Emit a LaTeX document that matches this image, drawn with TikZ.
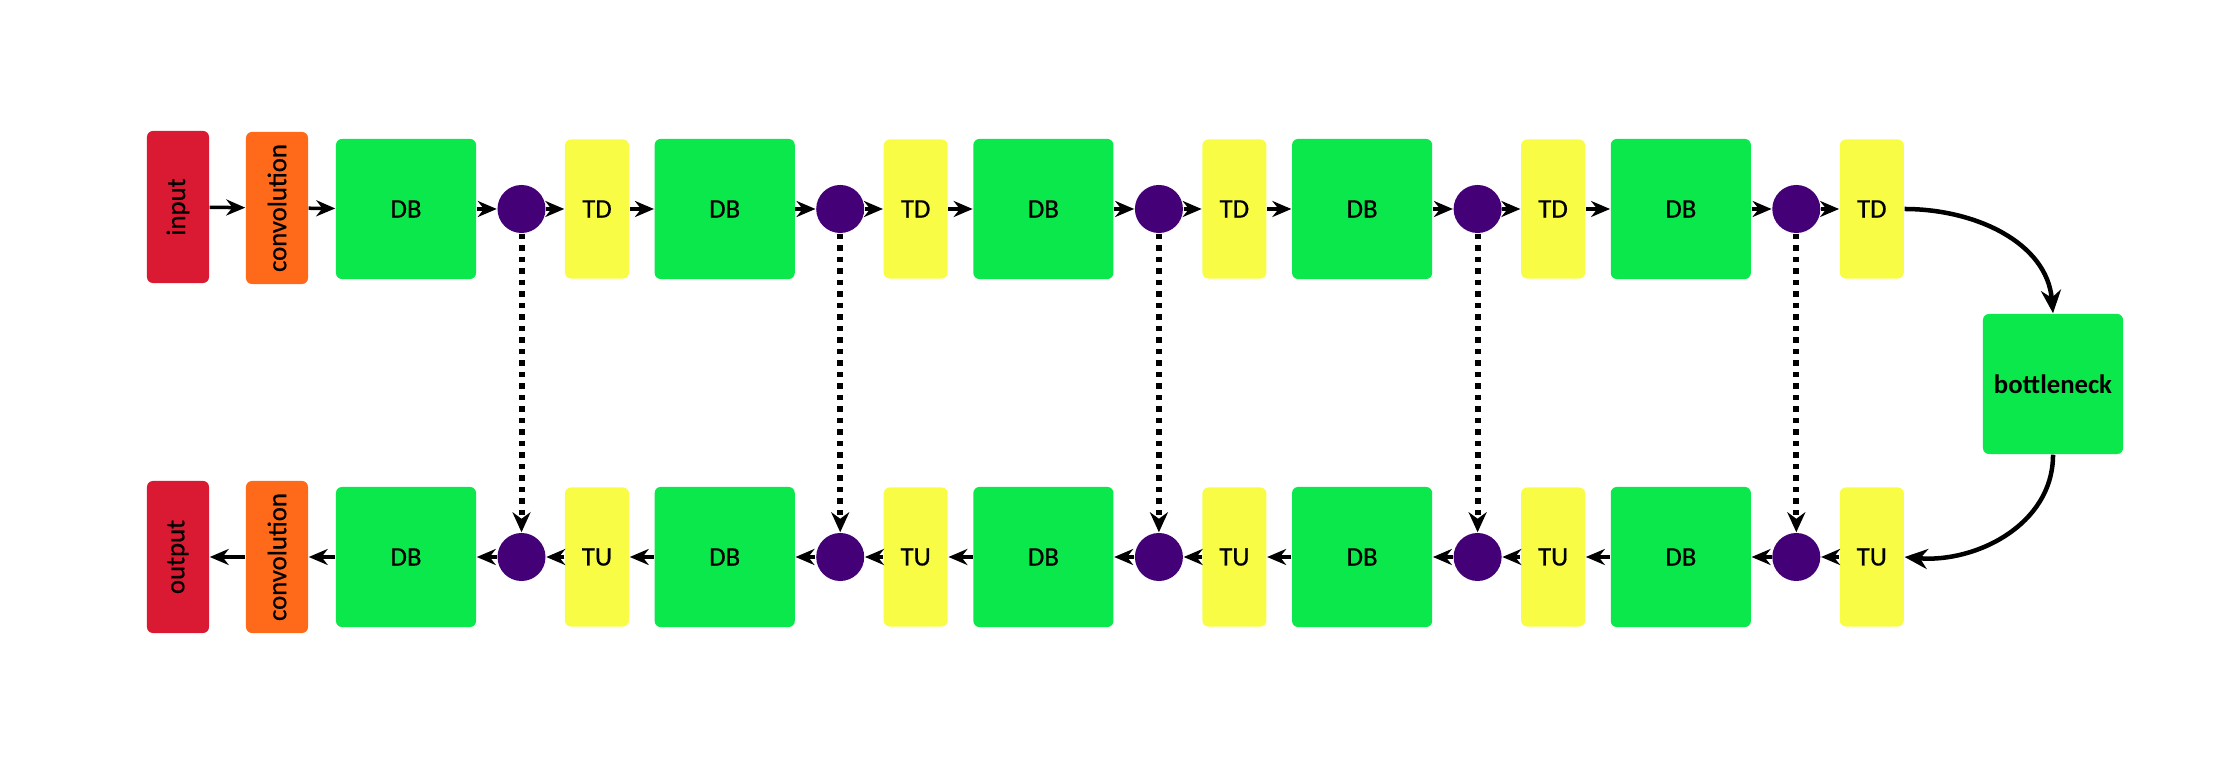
\documentclass[tikz,border=0pt]{standalone}
\usepackage{fontspec}
\setmainfont{Carlito}[UprightFeatures={FakeBold=0.6}]
\usepackage{xcolor}
\usepackage{tikz}
\usetikzlibrary{arrows.meta,positioning}

\definecolor{inred}{HTML}{DA1A32}
\definecolor{convorange}{HTML}{FF6A1A}
\definecolor{dbgreen}{HTML}{0BE84C}
\definecolor{tyellow}{HTML}{F8FC45}
\definecolor{catpurple}{HTML}{440077}

\begin{document}
\begin{tikzpicture}[x=0.01cm,y=-0.01cm,
    every node/.style={font=\fontsize{7.6}{9}\selectfont,inner sep=0pt},
    blk/.style={rounded corners=0.06cm},
    io/.style={blk,fill=inred,minimum width=0.62cm,minimum height=1.52cm},
    convbox/.style={blk,fill=convorange,minimum width=0.62cm,minimum height=1.52cm},
    dbbox/.style={blk,fill=dbgreen,minimum width=1.4cm,minimum height=1.4cm},
    trans/.style={blk,fill=tyellow,minimum width=0.64cm,minimum height=1.39cm},
    cat/.style={circle,fill=catpurple,minimum size=0.48cm},
    arr/.style={-{Stealth[length=0.19cm,width=0.16cm]},line width=0.035cm},
    skipline/.style={-{Stealth[length=0.2cm,width=0.18cm]},line width=0.06cm,dash pattern=on 0.055cm off 0.06cm},
    bncurve/.style={-{Stealth[length=0.23cm,width=0.2cm]},line width=0.045cm}]
    \useasboundingbox (0,0) rectangle (2216,783);

    \node[io] (input) at (178,207) {\rotatebox{90}{input}};
    \node[convbox] (conv1) at (277,208) {\rotatebox{90}{convolution}};
    \node[io] (output) at (178,557) {\rotatebox{90}{output}};
    \node[convbox] (conv2) at (277,557) {\rotatebox{90}{convolution}};
    \node[dbbox] (bn) at (2053,384) {\bfseries bottleneck};

    % down path (top) and up path (bottom)
    \foreach \i in {1,...,5} {
        \pgfmathsetmacro\xx{318.7*(\i-1)}
        \node[dbbox] (db\i) at (406+\xx,209) {DB};
        \node[cat] (cat\i) at (521.5+\xx,209) {};
        \node[trans] (td\i) at (597+\xx,209) {TD};
        \node[dbbox] (udb\i) at (406+\xx,557) {DB};
        \node[cat] (ucat\i) at (521.5+\xx,557) {};
        \node[trans] (tu\i) at (597+\xx,557) {TU};
        \draw[arr] (db\i) -- (cat\i);
        \draw[arr] (cat\i) -- (td\i);
        \draw[arr] (tu\i) -- (ucat\i);
        \draw[arr] (ucat\i) -- (udb\i);
        \draw[skipline] (cat\i) -- (ucat\i);
    }
    \foreach \i [evaluate=\i as \j using int(\i+1)] in {1,...,4} {
        \draw[arr] (td\i) -- (db\j);
        \draw[arr] (udb\j) -- (tu\i);
    }

    \draw[arr] (input) -- (conv1);
    \draw[arr] (conv1) -- (db1);
    \draw[arr] (udb1) -- (conv2);
    \draw[arr] (conv2) -- (output);

    \draw[bncurve] (td5.east) to[out=0,in=95] (bn.north);
    \draw[bncurve] (bn.south) to[out=-90,in=-5] (tu5.east);
\end{tikzpicture}
\end{document}
